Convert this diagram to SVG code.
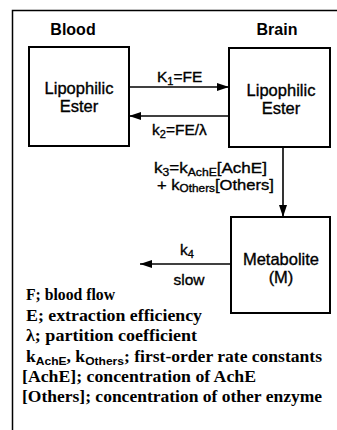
<svg xmlns="http://www.w3.org/2000/svg" width="337" height="430" viewBox="0 0 337 430">
<defs>
<style>
.frame{fill:none;stroke:#000;stroke-width:1.5}
.box{fill:#fff;stroke:#000;stroke-width:2}
.line{fill:none;stroke:#000;stroke-width:1.6}
.sans{font-family:"Liberation Sans",Arial,sans-serif;fill:#000;stroke:#000;stroke-width:0.35}
.head{font-size:16px;font-weight:bold;text-anchor:middle;stroke-width:0}
.node{font-size:16.5px;text-anchor:middle}
.lab{font-size:15.5px}
.sub{font-size:11px}
.leg{font-family:"Liberation Serif","Times New Roman",serif;font-size:16px;font-weight:bold;fill:#000}
.lsub{font-family:"Liberation Sans",Arial,sans-serif;font-size:11px;font-weight:bold}
</style>
<marker id="ah" viewBox="0 0 12 8" refX="12" refY="4" markerWidth="12" markerHeight="8" markerUnits="userSpaceOnUse" orient="auto">
<path d="M0,0 L12,4 L0,8 Z" fill="#000"/>
</marker>
</defs>
<rect width="337" height="430" fill="#fff"/>
<path class="frame" d="M12.5,430 V10.5 H337"/>
<text class="sans head" x="73" y="35">Blood</text>
<text class="sans head" x="277" y="35">Brain</text>
<g id="blood-ester">
<rect class="box" x="29" y="47" width="100" height="99"/>
<text class="sans node" x="79" y="94">Lipophilic</text>
<text class="sans node" x="79" y="112">Ester</text>
</g>
<g id="brain-ester">
<rect class="box" x="229" y="48" width="101" height="99"/>
<text class="sans node" x="281" y="96">Lipophilic</text>
<text class="sans node" x="281" y="114">Ester</text>
</g>
<g id="metabolite">
<rect class="box" x="231" y="217" width="99" height="96"/>
<text class="sans node" x="281" y="265">Metabolite</text>
<text class="sans node" x="281" y="283">(M)</text>
</g>
<g id="connectors">
<line class="line" x1="129" y1="87" x2="229" y2="87" marker-end="url(#ah)"/>
<line class="line" x1="229" y1="116" x2="129" y2="116" marker-end="url(#ah)"/>
<line class="line" x1="283" y1="147" x2="283" y2="217" marker-end="url(#ah)"/>
<line class="line" x1="231" y1="264" x2="140" y2="264" marker-end="url(#ah)"/>
<text class="sans lab" x="157" y="82">K<tspan class="sub" dy="3">1</tspan><tspan dy="-3">=FE</tspan></text>
<text class="sans lab" x="152" y="135">k<tspan class="sub" dy="3">2</tspan><tspan dy="-3">=FE/λ</tspan></text>
<text class="sans lab" x="154" y="173" textLength="113" lengthAdjust="spacingAndGlyphs">k<tspan class="sub" dy="2.5">3</tspan><tspan dy="-2.5">=k</tspan><tspan class="sub" dy="2.5">AchE</tspan><tspan dy="-2.5">[AchE]</tspan></text>
<text class="sans lab" x="157" y="190" textLength="117" lengthAdjust="spacingAndGlyphs">+ k<tspan class="sub" dy="2">Others</tspan><tspan dy="-2">[Others]</tspan></text>
<text class="sans lab" x="180" y="255">k<tspan class="sub" dy="3">4</tspan></text>
<text class="sans lab" x="189" y="285" text-anchor="middle">slow</text>
</g>
<g id="legend">
<text class="leg" x="26" y="300" textLength="89" lengthAdjust="spacingAndGlyphs">F; blood flow</text>
<text class="leg" x="26" y="321" textLength="176" lengthAdjust="spacingAndGlyphs">E; extraction efficiency</text>
<text class="leg" x="26" y="341" textLength="171" lengthAdjust="spacingAndGlyphs">λ; partition coefficient</text>
<text class="leg" x="26" y="362" textLength="296" lengthAdjust="spacingAndGlyphs">k<tspan class="lsub" dy="3">AchE</tspan><tspan dy="-3">, k</tspan><tspan class="lsub" dy="3">Others</tspan><tspan dy="-3">; first-order rate constants</tspan></text>
<text class="leg" x="22" y="382" textLength="234" lengthAdjust="spacingAndGlyphs">[AchE]; concentration of AchE</text>
<text class="leg" x="22" y="402" textLength="300" lengthAdjust="spacingAndGlyphs">[Others]; concentration of other enzyme</text>
</g>
</svg>
